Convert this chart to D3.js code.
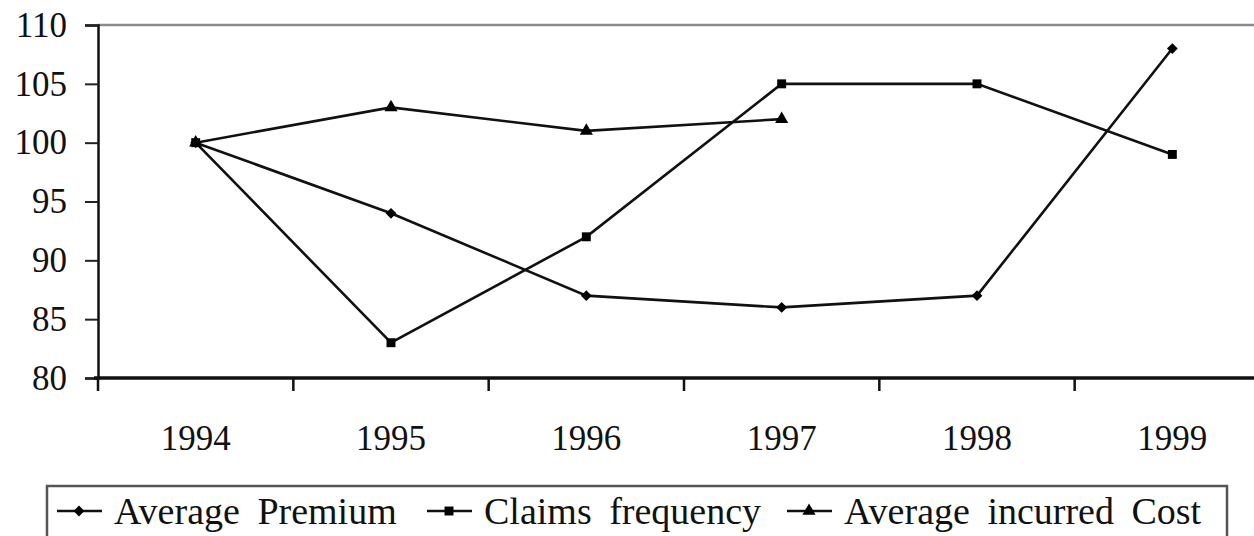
<!DOCTYPE html>
<html>
<head>
<meta charset="utf-8">
<script src="https://cdn.jsdelivr.net/npm/d3@7"></script>
<style>
  html, body { margin: 0; padding: 0; background: #fff; overflow: hidden; }
  svg { display: block; font-family: "Liberation Serif", "DejaVu Serif", serif; }
</style>
</head>
<body>
<svg id="chart" width="1254" height="536"></svg>
<script>
// categories and series values
const years = ["1994", "1995", "1996", "1997", "1998", "1999"];
const averagePremium = [100, 94, 87, 86, 87, 108];
const claimsFrequency = [100, 83, 92, 105, 105, 99];
const averageIncurredCost = [100, 103, 101, 102];
const yTicks = [80, 85, 90, 95, 100, 105, 110];

const series = [
  { name: "Average Premium", values: averagePremium, marker: "diamond" },
  { name: "Claims frequency", values: claimsFrequency, marker: "square" },
  { name: "Average incurred Cost", values: averageIncurredCost, marker: "triangle" }
];

const svg = d3.select("#chart");
const plotLeft = 98, plotRight = 1270, plotTop = 25, plotBottom = 378;
const serif = "'Liberation Serif', 'Times New Roman', serif";

const x = d3.scaleBand().domain(years).range([plotLeft, plotRight]).padding(0);
const y = d3.scaleLinear().domain([80, 110]).range([plotBottom, plotTop]);
const cx = d => x(d) + x.bandwidth() / 2;

// top border of the plot area (grey)
svg.append("line")
  .attr("x1", plotLeft).attr("x2", 1254)
  .attr("y1", y(110)).attr("y2", y(110))
  .attr("stroke", "#8a8a8a").attr("stroke-width", 2.5);

// y axis
let yAxis = svg.append("g")
  .attr("transform", `translate(${plotLeft},0)`)
  .call(d3.axisLeft(y).tickValues(yTicks).tickSize(13).tickPadding(18));
yAxis.select(".domain").attr("stroke", "#111").attr("stroke-width", 2.5);
yAxis.selectAll(".tick line").attr("stroke", "#222").attr("stroke-width", 2);
yAxis.selectAll(".tick text")
  .attr("fill", "#111").attr("font-size", 35)
  .attr("font-family", serif);

// x axis: labels at band centres, ticks at band edges
let xAxis = svg.append("g")
  .attr("transform", `translate(0,${plotBottom})`)
  .call(d3.axisBottom(x).tickSize(0).tickPadding(47));
xAxis.select(".domain").attr("stroke", "#111").attr("stroke-width", 3.5)
  .attr("d", `M${plotLeft - 4},0H1254`);
xAxis.selectAll(".tick text")
  .attr("fill", "#111").attr("font-size", 35)
  .attr("font-family", serif);
xAxis.selectAll("line.edge")
  .data(years)
  .join("line")
  .attr("class", "edge")
  .attr("x1", d => x(d)).attr("x2", d => x(d))
  .attr("y1", 0).attr("y2", 13)
  .attr("stroke", "#111").attr("stroke-width", 2.5);

const symbols = {
  diamond: d3.symbol().type(d3.symbolSquare).size(58),
  square: d3.symbol().type(d3.symbolSquare).size(80),
  triangle: d3.symbol().type(d3.symbolTriangle).size(75)
};
const rotation = { diamond: 45, square: 0, triangle: 0 };

const line = d3.line()
  .x(d => cx(d.year))
  .y(d => y(d.value));

series.forEach(s => {
  let pts = s.values.map((v, i) => ({ year: years[i], value: v }));
  svg.append("path")
    .datum(pts)
    .attr("d", line)
    .attr("fill", "none")
    .attr("stroke", "#111")
    .attr("stroke-width", 2.6);
  svg.append("g").selectAll("path")
    .data(pts)
    .join("path")
    .attr("d", symbols[s.marker])
    .attr("transform", d => `translate(${cx(d.year)},${y(d.value)}) rotate(${rotation[s.marker]})`)
    .attr("fill", "#000");
});

// legend
const legend = svg.append("g");
legend.append("rect")
  .attr("x", 47).attr("y", 486)
  .attr("width", 1180).attr("height", 80)
  .attr("fill", "none").attr("stroke", "#555").attr("stroke-width", 2.5);

const legendX = [57, 427, 787];
series.forEach((s, i) => {
  let g = legend.append("g").attr("transform", `translate(${legendX[i]},511)`);
  g.append("line").attr("x1", 0).attr("x2", 45).attr("y1", 0).attr("y2", 0)
    .attr("stroke", "#111").attr("stroke-width", 2.6);
  g.append("path").attr("d", symbols[s.marker])
    .attr("transform", `translate(22,0) rotate(${rotation[s.marker]})`)
    .attr("fill", "#000");
  g.append("text")
    .attr("x", 57).attr("y", 13)
    .attr("font-size", 38)
    .attr("font-family", serif)
    .attr("fill", "#111")
    .attr("word-spacing", 8)
    .text(s.name);
});
</script>
</body>
</html>
